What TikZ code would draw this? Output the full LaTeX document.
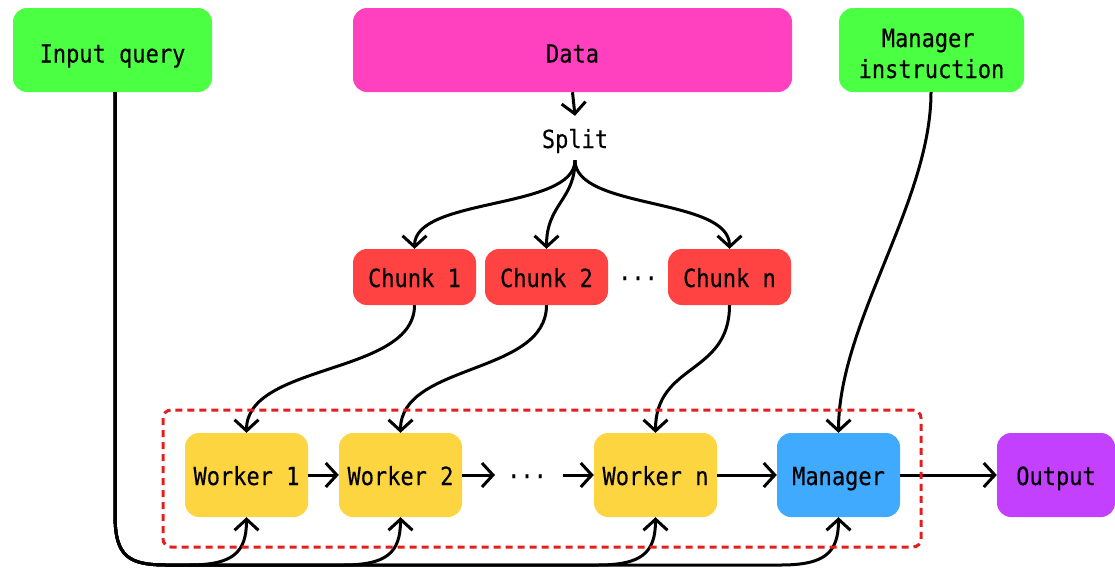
\documentclass[tikz,border=0pt]{standalone}
\usepackage{fontspec}
\setmonofont{DejaVu Sans Mono}[FakeStretch=0.88, FakeBold=0.3]
\usetikzlibrary{arrows.meta,calc}

\definecolor{cGreen}{HTML}{4BFF43}
\definecolor{cMagenta}{HTML}{FF40BF}
\definecolor{cChunk}{HTML}{FF4343}
\definecolor{cWorker}{HTML}{FCD540}
\definecolor{cManager}{HTML}{40AAFF}
\definecolor{cOutput}{HTML}{C340FF}
\definecolor{cFrame}{HTML}{E41E1E}

\begin{document}
\begin{tikzpicture}[x=1pt,y=-1pt,
  lbl/.style={inner sep=0pt, font=\ttfamily\fontsize{25}{31}\selectfont, text depth=0pt},
  box/.style={lbl, rounded corners=14pt, minimum width=123pt},
  topbox/.style={box, minimum height=84pt, text height=25pt},
  chunkbox/.style={box, fill=cChunk, minimum height=56pt, text height=20pt},
  rowbox/.style={box, minimum height=84pt, text height=20pt},
  arr/.style={line width=3pt, -{Straight Barb[length=11pt,width=24pt]}},
  frame/.style={cFrame, line width=3pt, dash pattern=on 7pt off 5pt, rounded corners=8pt}
]
\useasboundingbox (0,0) rectangle (1115,568);

% sources
\node[topbox, fill=cGreen, minimum width=199pt] (iq) at (112.5,50) {Input query};
\node[topbox, fill=cMagenta, minimum width=439pt] (data) at (572.5,50) {Data};
\node[topbox, fill=cGreen, minimum width=185pt, align=center, text height=56pt]
  (mi) at (931.5,50) {Manager\kern6.6pt\\instruction};

% splitting
\node[lbl, text height=20pt, minimum height=44pt] (split) at (575,138) {Split};
\node[chunkbox] (c1) at (414.5,277) {Chunk 1};
\node[chunkbox] (c2) at (546.5,277) {Chunk 2};
\node[lbl, text height=20pt] (cdots) at (638,277) {···};
\node[chunkbox] (cn) at (729.5,277) {Chunk n};

% worker chain
\node[rowbox, fill=cWorker] (w1) at (246.5,475) {Worker 1};
\node[rowbox, fill=cWorker] (w2) at (400.5,475) {Worker 2};
\node[lbl, text height=20pt] (wdots) at (527,475) {···};
\node[rowbox, fill=cWorker] (wn) at (655.5,475) {Worker n};
\node[rowbox, fill=cManager] (mgr) at (838.5,475) {Manager};
\node[rowbox, fill=cOutput, minimum width=118pt] (out) at (1056,475) {Output};

\coordinate (d1) at (495,475);
\coordinate (d2) at (563,475);
\coordinate (trunk) at (115,565);

% data flow
\draw[arr] (data.south) -- (split.north);
\draw[arr] (split.south) .. controls +(0,50) and +(0,-52) .. (c1.north);
\draw[arr] (split.south) .. controls +(0,40) and +(0,-45) .. (c2.north);
\draw[arr] (split.south) .. controls +(0,50) and +(0,-52) .. (cn.north);

\draw[arr] (c1.south) .. controls +(0,70) and +(0,-70) .. (w1.north);
\draw[arr] (c2.south) .. controls +(0,70) and +(0,-70) .. (w2.north);
\draw[arr] (cn.south) .. controls +(0,70) and +(0,-70) .. (wn.north);
\draw[arr] (mi.south -| 931,0) .. controls +(0,110) and +(0,-110) .. (mgr.north);

\draw[arr] (w1.east) -- (w2.west);
\draw[arr] (w2.east) -- (d1);
\draw[arr] (d2) -- (wn.west);
\draw[arr] (wn.east) -- (mgr.west);
\draw[arr] (mgr.east) -- (out.west);

% input query fed to every worker and the manager from below
\foreach \t in {w1,w2,wn,mgr}{
  \draw[arr] (iq.south -| trunk) -- ($(trunk)+(0,-50)$)
    .. controls ($(trunk)+(0,-8)$) and ($(trunk)+(14,0)$) .. ($(trunk)+(52,0)$)
    -- ($(\t.south |- trunk)+(-58,0)$)
    .. controls ($(\t.south |- trunk)+(-14,0)$) and ($(\t.south |- trunk)+(0,-12)$) .. (\t.south);
}

% group frame
\draw[frame] (163,410) rectangle (921,547);
\end{tikzpicture}
\end{document}
